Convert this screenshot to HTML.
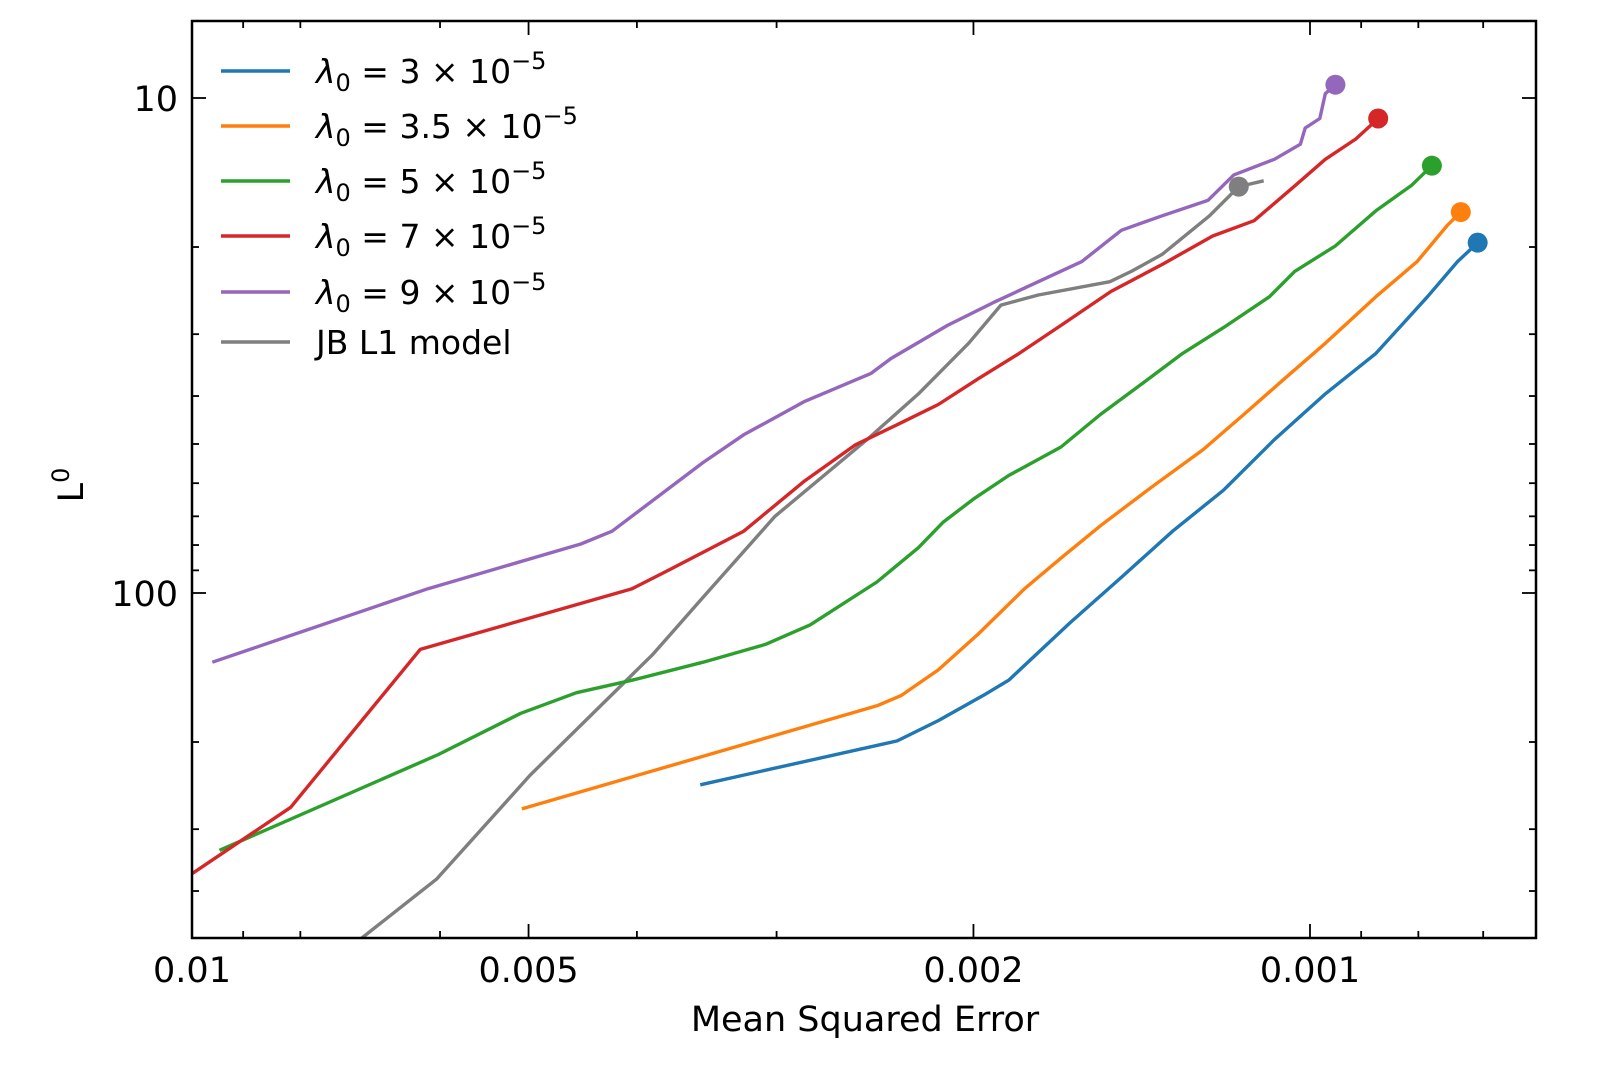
<!DOCTYPE html>
<html><head><meta charset="utf-8"><style>
html,body{margin:0;padding:0;background:#fff;}
svg{display:block;font-family:"DejaVu Sans","Liberation Sans",sans-serif;}
</style></head><body>
<svg id="chart" width="1600" height="1066" viewBox="0 0 1600 1066" xmlns="http://www.w3.org/2000/svg"></svg>
<script>
const seriesNames = ["λ0=3e-5","λ0=3.5e-5","λ0=5e-5","λ0=7e-5","λ0=9e-5","JB L1 model"];
const seriesColors = ["#1f77b4","#ff7f0e","#2ca02c","#d62728","#9467bd","#7f7f7f"];
const blueX=[0.00351,0.00234,0.00215,0.00196,0.00186,0.00164,0.001475,0.001327,0.001195,0.001076,0.000969,0.000873,0.000785,0.000738,0.000708];
const blueY=[244,199,181,161,150,115,93,75,62,49,39.6,32.8,25.2,21.4,19.6];
const orangeX=[0.00507,0.00244,0.00232,0.00215,0.00198,0.0018,0.00167,0.001538,0.001384,0.001247,0.001146,0.001054,0.000969,0.000873,0.000802,0.000754,0.000733];
const orangeY=[273,169,161,143,121,98,85,73,61,51.4,43.6,36.9,31.3,25.2,21.4,18.1,17.0];
const greenX=[0.00945,0.00602,0.00508,0.00453,0.00404,0.00349,0.00307,0.0028,0.00244,0.00224,0.00213,0.002,0.00186,0.00167,0.00154,0.001414,0.0013,0.001195,0.001087,0.001032,0.000949,0.000873,0.000811,0.000778];
const greenY=[331,212,175,159,150,138,127,116,95,81,72,64.6,57.9,50.7,43.6,37.8,32.8,29.1,25.2,22.4,19.9,16.9,15.0,13.7];
const redX=[0.01,0.00816,0.00625,0.00404,0.00375,0.00321,0.00283,0.00255,0.00234,0.00215,0.00198,0.00182,0.00167,0.001507,0.001356,0.001222,0.001122,0.00103,0.000969,0.00091,0.000869];
const redY=[369,271,130,98,90,75,59.3,50.2,45.7,41.6,36.9,32.8,28.8,24.6,21.7,19.0,17.7,15.0,13.3,12.1,11.0];
const purpleX=[0.00959,0.00615,0.00449,0.00421,0.00349,0.00321,0.00283,0.00247,0.00237,0.00211,0.00192,0.00175,0.0016,0.001475,0.001356,0.001234,0.00117,0.001076,0.00102,0.00101,0.00098,0.000969,0.000949];
const purpleY=[138,98,79.6,75,54.5,47.9,41,36,33.6,28.8,25.9,23.5,21.4,18.5,17.3,16.1,14.3,13.3,12.4,11.5,11.0,9.8,9.4];
const grayX=[0.00705,0.00604,0.00498,0.00387,0.00349,0.00301,0.00249,0.00224,0.00202,0.00189,0.00175,0.00151,0.001445,0.001356,0.00123,0.001158,0.0011];
const grayY=[498,378,233,133,102,70,49,39.6,31.3,26.2,25.0,23.5,22.4,20.7,17.3,15.1,14.7];
const markerIdx=[14,16,23,20,22,15];
const xMajorTicks=[0.01,0.005,0.002,0.001];
const xMajorLabels=["0.01","0.005","0.002","0.001"];
const xMinorTicks=[0.009,0.008,0.006,0.004,0.003,0.0009,0.0008,0.0007];
const yMajorTicks=[10,100];
const yMajorLabels=["10","100"];
const yMinorTicks=[20,30,40,50,60,70,80,90,200,300,400];

const L=192,R=1536,T=21,B=938;
const xDec=1118, yDec=495;
function sx(v){return L+(-2-Math.log10(v))*xDec;}
function sy(v){return 98+(Math.log10(v)-1)*yDec;}
const NS="http://www.w3.org/2000/svg";
const svg=document.getElementById('chart');
function mk(tag,attrs,parent){const e=document.createElementNS(NS,tag);for(const k in attrs)e.setAttribute(k,attrs[k]);(parent||svg).appendChild(e);return e;}

const clip=mk('clipPath',{id:'clip'});
mk('rect',{x:L,y:T,width:R-L,height:B-T},clip);

const allX=[blueX,orangeX,greenX,redX,purpleX,grayX];
const allY=[blueY,orangeY,greenY,redY,purpleY,grayY];
const keys=['blue','orange','green','red','purple','gray'];
const order=[5,0,1,2,3,4];
const plotG=mk('g',{'clip-path':'url(#clip)'});


order.forEach(i=>{
  const d=allX[i].map((x,j)=>(j?'L':'M')+sx(x).toFixed(1)+' '+sy(allY[i][j]).toFixed(1)).join(' ');
  const p=mk('path',{d:d,fill:'none',stroke:seriesColors[i],'stroke-width':3.4,'stroke-linejoin':'round'},plotG);
  
  
  const k=Math.min(markerIdx[i],allX[i].length-1);
  const c=mk('circle',{cx:sx(allX[i][k]),cy:sy(allY[i][k]),r:10,fill:seriesColors[i]},plotG);
  
  
});

const fr=mk('rect',{x:L,y:T,width:R-L,height:B-T,fill:'none',stroke:'#000','stroke-width':2.5});



const tg=mk('g',{stroke:'#000','stroke-width':1.8});


xMajorTicks.forEach((v,i)=>{
  const x=sx(v);
  mk('line',{x1:x,y1:B,x2:x,y2:B-14},tg);mk('line',{x1:x,y1:T,x2:x,y2:T+14},tg);
  const t=mk('text',{x:x,y:B+44,'font-size':35,'text-anchor':'middle',fill:'#000',stroke:'none'});
  t.textContent=xMajorLabels[i];
  
  
});
xMinorTicks.forEach(v=>{const x=sx(v);mk('line',{x1:x,y1:B,x2:x,y2:B-7},tg);mk('line',{x1:x,y1:T,x2:x,y2:T+7},tg);});
yMajorTicks.forEach((v,i)=>{
  const y=sy(v);
  mk('line',{x1:L,y1:y,x2:L+14,y2:y},tg);mk('line',{x1:R,y1:y,x2:R-14,y2:y},tg);
  const t=mk('text',{x:L-14,y:y+13,'font-size':35,'text-anchor':'end',fill:'#000',stroke:'none'});
  t.textContent=yMajorLabels[i];
  
  
});
yMinorTicks.forEach(v=>{const y=sy(v);mk('line',{x1:L,y1:y,x2:L+7,y2:y},tg);mk('line',{x1:R,y1:y,x2:R-7,y2:y},tg);});
</script>
<svg style="position:absolute;left:0;top:0" width="1600" height="1066">
  <text x="865" y="1031" font-size="35" text-anchor="middle" font-family="DejaVu Sans, Liberation Sans, sans-serif">Mean Squared Error</text>
  <text transform="translate(83,485) rotate(-90)" font-size="35" text-anchor="middle" font-family="DejaVu Sans, Liberation Sans, sans-serif">L<tspan font-size="24" dy="-14">0</tspan></text>
  <g font-family="DejaVu Sans, Liberation Sans, sans-serif" font-size="33">
    <g><line x1="221" y1="71" x2="290" y2="71" stroke="#1f77b4" stroke-width="3.4"/><text x="316" y="83"><tspan font-style="italic">λ</tspan><tspan font-size="24" dy="8">0</tspan><tspan dy="-8"> = 3 × 10</tspan><tspan font-size="24" dy="-14">−5</tspan></text></g>
    <g><line x1="221" y1="126" x2="290" y2="126" stroke="#ff7f0e" stroke-width="3.4"/><text x="316" y="138"><tspan font-style="italic">λ</tspan><tspan font-size="24" dy="8">0</tspan><tspan dy="-8"> = 3.5 × 10</tspan><tspan font-size="24" dy="-14">−5</tspan></text></g>
    <g><line x1="221" y1="181" x2="290" y2="181" stroke="#2ca02c" stroke-width="3.4"/><text x="316" y="193"><tspan font-style="italic">λ</tspan><tspan font-size="24" dy="8">0</tspan><tspan dy="-8"> = 5 × 10</tspan><tspan font-size="24" dy="-14">−5</tspan></text></g>
    <g><line x1="221" y1="236" x2="290" y2="236" stroke="#d62728" stroke-width="3.4"/><text x="316" y="248"><tspan font-style="italic">λ</tspan><tspan font-size="24" dy="8">0</tspan><tspan dy="-8"> = 7 × 10</tspan><tspan font-size="24" dy="-14">−5</tspan></text></g>
    <g><line x1="221" y1="292" x2="290" y2="292" stroke="#9467bd" stroke-width="3.4"/><text x="316" y="304"><tspan font-style="italic">λ</tspan><tspan font-size="24" dy="8">0</tspan><tspan dy="-8"> = 9 × 10</tspan><tspan font-size="24" dy="-14">−5</tspan></text></g>
    <g><line x1="221" y1="342" x2="290" y2="342" stroke="#7f7f7f" stroke-width="3.4"/><text x="316" y="354">JB L1 model</text></g>
  </g>
</svg>
</body></html>
